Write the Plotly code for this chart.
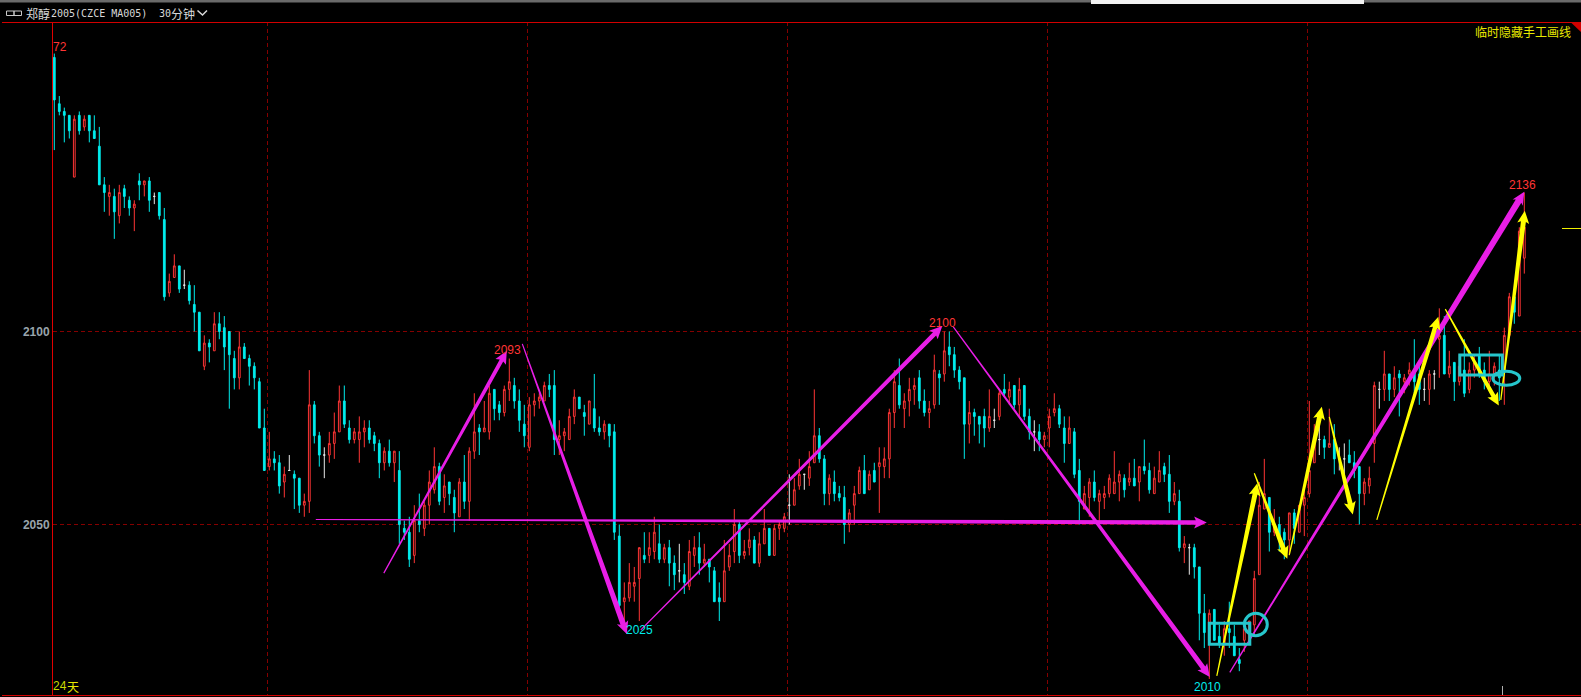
import math
import plotly.graph_objects as go

OPEN = [
 2171,2159,2157,2156,2140,2156,2153,2156,2152,2148, 2138,2135,2135,2130,2137,2134,2132,2139,2138,2139,
 2135,2136,2129,2110,2114,2117,2112,2112,2107,2105, 2091,2097,2095,2102,2101,2100,2093,2088,2096,2093,
 2091,2087,2075,2065,2067,2066,2061,2064,2063,2062, 2055,2056,2081,2073,2068,2068,2071,2074,2082,2075,
 2072,2072,2074,2075,2073,2071,2066,2069,2066,2064, 2049,2048,2042,2051,2049,2055,2059,2065,2057,2061,
 2057,2052,2061,2056,2069,2075,2074,2074,2085,2081, 2079,2085,2086,2082,2076,2070,2081,2082,2082,2086,
 2086,2072,2073,2072,2078,2083,2079,2076,2080,2075, 2074,2076,2074,2047,2030,2031,2034,2036,2042,2042,
 2043,2045,2041,2044,2040,2038,2037,2034,2042,2044, 2040,2041,2038,2031,2030,2039,2043,2050,2042,2044,
 2046,2040,2045,2049,2042,2049,2049,2055,2055,2060, 2063,2062,2066,2073,2067,2058,2061,2058,2057,2050,
 2055,2058,2064,2059,2064,2065,2065,2067,2079,2086, 2080,2082,2085,2088,2082,2079,2081,2089,2089,2096,
 2094,2090,2088,2076,2079,2078,2078,2075,2077,2078, 2085,2083,2086,2081,2086,2078,2074,2074,2072,2075,
 2079,2080,2075,2071,2074,2064,2054,2057,2061,2056, 2057,2058,2058,2061,2062,2061,2062,2061,2065,2064,
 2058,2061,2065,2063,2056,2056,2044,2044,2044,2039, 2027,2020,2028,2021,2019,2023,2021,2015,2020,2019,
 2024,2037,2054,2057,2048,2050,2048,2046,2053,2048, 2055,2058,2066,2072,2072,2070,2072,2067,2067,2068,
 2066,2065,2058,2060,2071,2085,2085,2089,2085,2089, 2087,2089,2090,2089,2085,2085,2089,2098,2099,2089,
 2092,2087,2090,2085,2090,2094,2090,2087,2089,2090, 2090,2099,2109,2104,2119]
HIGH = [
 2172,2161,2158,2156,2156,2157,2156,2156,2156,2153, 2140,2138,2137,2138,2138,2135,2134,2141,2139,2140,
 2136,2136,2132,2115,2120,2117,2116,2113,2112,2105, 2099,2098,2105,2105,2104,2100,2095,2100,2097,2094,
 2092,2088,2080,2074,2069,2068,2065,2068,2064,2062, 2058,2090,2082,2074,2070,2074,2079,2086,2086,2077,
 2075,2078,2077,2077,2074,2072,2070,2072,2069,2069, 2051,2052,2055,2058,2056,2064,2070,2066,2063,2061,
 2059,2062,2068,2070,2084,2076,2082,2086,2085,2082, 2086,2093,2088,2085,2081,2083,2084,2084,2087,2089,
 2090,2077,2075,2080,2085,2083,2081,2082,2089,2078, 2077,2076,2076,2050,2035,2040,2039,2044,2048,2048,
 2052,2050,2045,2046,2042,2045,2040,2046,2047,2048, 2045,2041,2039,2035,2046,2045,2054,2051,2046,2049,
 2047,2048,2054,2049,2050,2051,2053,2063,2062,2067, 2063,2069,2085,2075,2068,2063,2064,2060,2060,2054,
 2060,2065,2068,2064,2066,2070,2070,2080,2090,2093, 2084,2088,2088,2090,2085,2082,2094,2090,2100,2100,
 2096,2091,2088,2082,2080,2078,2080,2085,2080,2085, 2089,2087,2086,2088,2086,2080,2077,2076,2074,2080,
 2084,2081,2078,2078,2075,2067,2060,2062,2064,2059, 2060,2063,2069,2064,2063,2066,2067,2065,2072,2066,
 2065,2069,2066,2068,2061,2059,2047,2045,2045,2039, 2032,2028,2028,2024,2025,2030,2024,2018,2024,2025,
 2038,2061,2067,2057,2054,2052,2049,2053,2054,2055, 2059,2082,2076,2076,2073,2080,2076,2070,2071,2072,
 2069,2065,2062,2065,2087,2087,2095,2089,2091,2090, 2089,2092,2098,2092,2088,2090,2090,2106,2104,2095,
 2092,2094,2098,2092,2094,2096,2092,2095,2092,2094, 2101,2110,2110,2127,2136]
LOW = [
 2147,2156,2149,2150,2140,2151,2152,2149,2150,2138, 2131,2130,2124,2128,2132,2130,2126,2134,2135,2131,
 2133,2129,2108,2109,2114,2110,2111,2107,2100,2095, 2090,2092,2095,2098,2090,2080,2085,2085,2093,2086,
 2085,2075,2064,2064,2064,2058,2057,2064,2054,2053, 2052,2053,2071,2065,2062,2066,2067,2074,2075,2071,
 2071,2066,2070,2071,2069,2062,2064,2065,2061,2045, 2046,2039,2040,2048,2047,2050,2058,2055,2053,2055,
 2048,2052,2054,2051,2067,2068,2074,2072,2077,2077, 2078,2082,2080,2074,2070,2069,2078,2080,2082,2083,
 2068,2068,2069,2072,2076,2080,2073,2076,2074,2073, 2072,2070,2046,2027,2025,2030,2030,2025,2040,2040,
 2041,2040,2040,2034,2033,2035,2032,2033,2039,2037, 2039,2035,2030,2025,2030,2038,2040,2040,2041,2042,
 2040,2039,2045,2042,2042,2046,2048,2050,2055,2059, 2059,2060,2066,2066,2055,2055,2056,2056,2045,2048,
 2050,2058,2058,2059,2061,2053,2062,2062,2075,2080, 2075,2078,2081,2080,2078,2075,2080,2081,2087,2091,
 2088,2085,2067,2071,2073,2071,2070,2074,2075,2077, 2083,2081,2080,2078,2077,2072,2069,2069,2070,2070,
 2078,2075,2066,2071,2062,2050,2054,2052,2056,2051, 2054,2057,2058,2056,2057,2060,2060,2056,2063,2058,
 2058,2061,2061,2053,2055,2043,2040,2037,2036,2020, 2018,2010,2020,2018,2016,2018,2016,2012,2017,2019,
 2021,2037,2054,2043,2047,2043,2041,2042,2045,2048, 2047,2057,2066,2068,2067,2070,2063,2064,2063,2066,
 2062,2050,2055,2058,2066,2080,2082,2082,2083,2078, 2084,2086,2084,2081,2082,2081,2085,2088,2089,2088,
 2082,2086,2083,2084,2088,2088,2085,2085,2086,2082, 2081,2099,2102,2104,2115]
CLOSE = [
 2160,2157,2156,2152,2155,2152,2155,2152,2150,2138, 2136,2136,2131,2136,2135,2132,2133,2138,2139,2134,
 2135,2130,2109,2113,2117,2111,2112,2108,2105,2095, 2097,2096,2102,2100,2096,2094,2088,2096,2093,2091,
 2088,2075,2064,2067,2066,2060,2063,2064,2062,2055, 2056,2081,2073,2068,2068,2071,2074,2082,2076,2072,
 2074,2074,2075,2072,2071,2066,2069,2066,2069,2050, 2048,2041,2051,2050,2055,2061,2065,2056,2060,2058,
 2053,2061,2056,2069,2074,2074,2075,2084,2080,2079, 2085,2087,2082,2077,2073,2081,2082,2083,2086,2085,
 2072,2073,2074,2078,2083,2080,2078,2082,2075,2074, 2076,2073,2048,2029,2031,2035,2035,2044,2041,2044,
 2048,2041,2044,2040,2037,2038,2035,2043,2044,2040, 2041,2039,2030,2030,2038,2042,2050,2042,2043,2046,
 2040,2045,2049,2042,2049,2050,2052,2055,2059,2063, 2063,2065,2073,2067,2058,2062,2058,2057,2050,2053,
 2058,2064,2058,2063,2061,2066,2067,2079,2087,2081, 2082,2085,2086,2082,2079,2080,2090,2088,2095,2094,
 2090,2087,2076,2079,2078,2076,2075,2078,2077,2084, 2084,2085,2081,2085,2078,2074,2074,2072,2073,2078,
 2080,2076,2071,2075,2063,2056,2058,2061,2057,2058, 2058,2062,2061,2063,2059,2062,2060,2065,2064,2059,
 2062,2064,2063,2056,2058,2044,2045,2044,2039,2027, 2022,2027,2020,2019,2023,2022,2016,2014,2023,2025,
 2036,2055,2058,2048,2050,2046,2046,2053,2049,2055, 2057,2064,2071,2072,2070,2071,2067,2067,2067,2066,
 2064,2058,2061,2062,2086,2085,2089,2085,2088,2088, 2088,2090,2087,2085,2085,2089,2089,2099,2089,2091,
 2087,2091,2084,2090,2092,2089,2087,2089,2091,2088, 2099,2109,2105,2126,2127]

Y_TICKS = [2100, 2050]
X_GRID = [42.6, 94.6, 146.6, 198.6, 250.6]

# hand-drawn arrows: (start bar, start price, end bar, end price)
MAGENTA_ARROWS = [
    (65.9, 2037.4, 90.5, 2095.0), (93.6, 2096.8, 114.5, 2021.6), (117.3, 2022.7, 177.6, 2101.4),
    (179.8, 2101.2, 231.1, 2010.5), (52.3, 2051.3, 230.5, 2050.5), (235.1, 2011.7, 294.0, 2136.2)]
MAGENTA_WIDTHS = [4.0, 5.5, 4.5, 5.0, 4.5, 6.5]
YELLOW_ARROWS = [
    (232.5, 2010.8, 240.6, 2060.7), (240.0, 2063.3, 246.6, 2041.1), (247.0, 2042.1, 253.5, 2080.5),
    (255.0, 2077.9, 259.7, 2052.6), (264.5, 2051.2, 276.8, 2103.8), (278.2, 2105.8, 288.9, 2080.8),
    (289.3, 2082.3, 294.1, 2131.3)]
YELLOW_WIDTHS = [5.0, 5.0, 5.0, 5.0, 4.5, 4.5, 5.0]
BOXES = [(231.0, 2024.4, 239.1, 2019.0), (281.1, 2093.9, 289.6, 2088.7)]
ELLIPSES = [(238.0, 2027.0, 242.6, 2021.2), (287.7, 2089.7, 293.1, 2086.1)]

W, H = 1581, 697
ML, MT, MB = 53, 22, 2
PXBAR = 5.0
PXPRICE = 3.86
X_RANGE = [(ML - 54.3) / PXBAR, (W - 54.3) / PXBAR]
Y_RANGE = [2100 - (H - MB - 331.5) / PXPRICE, 2100 + (331.5 - MT) / PXPRICE]

CYAN = "#00ecec"
RED = "#ff3535"
WHITE = "#e8e8e8"
GRID = "#850000"
AXIS = "#d20000"
MAGENTA = "#e81ee6"
YELLOW = "#ffff00"
TEAL = "#26c6cc"

up = [i for i in range(len(OPEN)) if CLOSE[i] > OPEN[i]]
down = [i for i in range(len(OPEN)) if CLOSE[i] < OPEN[i]]
flat = [i for i in range(len(OPEN)) if CLOSE[i] == OPEN[i]]

fig = go.Figure()
def candles(idx, color, fill):
    fig.add_trace(go.Candlestick(
        x=idx,
        open=[OPEN[i] for i in idx], high=[HIGH[i] for i in idx],
        low=[LOW[i] for i in idx], close=[CLOSE[i] for i in idx],
        increasing=dict(line=dict(color=color, width=1), fillcolor=fill),
        decreasing=dict(line=dict(color=color, width=1), fillcolor=fill),
        whiskerwidth=0, showlegend=False, hoverinfo="skip"))
candles(up, RED, "rgba(0,0,0,1)")
candles(down, CYAN, CYAN)
candles(flat, WHITE, WHITE)

shapes = []
def arrow(a, color, w_end, head_w, head_l):
    i0, p0, i1, p1 = a
    dx = (i1 - i0) * PXBAR
    dy = -(p1 - p0) * PXPRICE
    L = math.hypot(dx, dy)
    ux, uy = dx / L, dy / L
    nx, ny = -uy, ux
    def pt(along, off):
        px_ = along * ux + off * nx
        py_ = along * uy + off * ny
        return i0 + px_ / PXBAR, p0 - py_ / PXPRICE
    pts = [pt(0, 0.6), pt(L - head_l, w_end / 2), pt(L - head_l * 1.15, head_w / 2), pt(L, 0),
           pt(L - head_l * 1.15, -head_w / 2), pt(L - head_l, -w_end / 2), pt(0, -0.6)]
    path = "M " + " L ".join(f"{x:.3f},{y:.3f}" for x, y in pts) + " Z"
    shapes.append(dict(type="path", path=path, xref="x", yref="y", fillcolor=color,
                       line=dict(width=0), layer="above"))
for a, w in zip(MAGENTA_ARROWS, MAGENTA_WIDTHS):
    arrow(a, MAGENTA, w, 12, 11)
for a, w in zip(YELLOW_ARROWS, YELLOW_WIDTHS):
    arrow(a, YELLOW, w, 12, 11)
for x0, y0, x1, y1 in BOXES:
    shapes.append(dict(type="rect", xref="x", yref="y", x0=x0, y0=y0, x1=x1, y1=y1,
                       line=dict(color=TEAL, width=3)))
for x0, y0, x1, y1 in ELLIPSES:
    shapes.append(dict(type="circle", xref="x", yref="y", x0=x0, y0=y0, x1=x1, y1=y1,
                       line=dict(color=TEAL, width=3)))

# window chrome, in page pixels
def px(x):
    return (x - ML) / (W - ML)
def py(y):
    return 1 - (y - MT) / (H - MT - MB)
def prect(x0, y0, x1, y1, fill=None, line=None, lw=0):
    shapes.append(dict(type="rect", xref="paper", yref="paper", x0=px(x0), x1=px(x1), y0=py(y0), y1=py(y1),
                       fillcolor=fill, line=dict(color=line, width=lw)))
def pline(x0, y0, x1, y1, color, lw=1):
    shapes.append(dict(type="line", xref="paper", yref="paper", x0=px(x0), x1=px(x1), y0=py(y0), y1=py(y1),
                       line=dict(color=color, width=lw)))
prect(0, 0, W, 2.5, fill="#6a6a6a")
prect(1091, 0, 1364, 4, fill="#f2f2f2")
pline(2, 22.5, W, 22.5, AXIS)
pline(2, 695.5, W, 695.5, AXIS)
pline(1502.5, 686, 1502.5, 695, "#b0b0b0")
pline(1562, 228.5, W, 228.5, "#f0f000")
prect(6.5, 11, 14, 15.5, line="#c8c8c8", lw=1)
prect(14, 11, 21.5, 15.5, line="#c8c8c8", lw=1)
shapes.append(dict(type="path", xref="paper", yref="paper", line=dict(color="#d8d8d8", width=1.5),
                   path=f"M {px(197.5)},{py(10.5)} L {px(202.5)},{py(15)} L {px(207)},{py(10.5)}"))
shapes.append(dict(type="path", xref="paper", yref="paper", fillcolor=AXIS, line=dict(width=0),
                   path=f"M {px(1571.5)},{py(23)} L {px(W)},{py(23)} L {px(W)},{py(32)} Z"))

CJK = "Noto Sans CJK SC"
MONO = "DejaVu Sans Mono"
NUM = "Liberation Sans"
anns = []
def text(x, y, s, color, size, family, anchor="left"):
    anns.append(dict(x=px(x), y=py(y), xref="paper", yref="paper", text=s, showarrow=False,
                     xanchor=anchor, yanchor="middle", borderpad=0, borderwidth=0,
                     font=dict(color=color, size=size, family=family)))
HEAD = "#d8d8d8"
text(26, 13, "郑醇", HEAD, 12, CJK)
text(50.5, 13, "2005(CZCE MA005)", HEAD, 10, MONO)
text(158.5, 13, "30", HEAD, 10, MONO)
text(170.5, 13, "分钟", HEAD, 12, CJK)
text(1475, 31.5, "临时隐藏手工画线", "#e8e800", 12, CJK)
text(53, 47, "72", RED, 12, NUM)
text(53, 686, "24", "#c8d800", 12, NUM)
text(66.5, 686, "天", "#e8e800", 12, CJK)
text(494, 350, "2093", RED, 12, NUM)
text(929, 322.7, "2100", RED, 12, NUM)
text(1509, 184.7, "2136", RED, 12, NUM)
text(626, 630, "2025", CYAN, 12, NUM)
text(1194, 686.7, "2010", CYAN, 12, NUM)

fig.update_layout(
    width=W, height=H, autosize=False,
    paper_bgcolor="#000000", plot_bgcolor="#000000",
    margin=dict(l=ML, r=0, t=MT, b=MB, pad=0),
    boxgap=0.5, showlegend=False,
    shapes=shapes, annotations=anns,
    xaxis=dict(range=X_RANGE, rangeslider=dict(visible=False), tickmode="array", tickvals=X_GRID,
               showticklabels=False, ticks="", showgrid=True, gridcolor=GRID, griddash="4px,3px",
               gridwidth=1, zeroline=False, showline=False, fixedrange=True),
    yaxis=dict(range=Y_RANGE, tickmode="array", tickvals=Y_TICKS, ticktext=[f"<b>{v}</b>" for v in Y_TICKS],
               tickfont=dict(color="#98a4ac", size=12, family="Liberation Sans"), ticks="",
               showgrid=True, gridcolor=GRID, griddash="4px,3px", gridwidth=1, zeroline=False,
               showline=True, linecolor="#e00000", linewidth=1, fixedrange=True),
)
fig.write_html("out.html", config=dict(displayModeBar=False),
               post_script="document.body.style.margin='0';document.body.style.background='#000';document.documentElement.style.overflow='hidden';")
